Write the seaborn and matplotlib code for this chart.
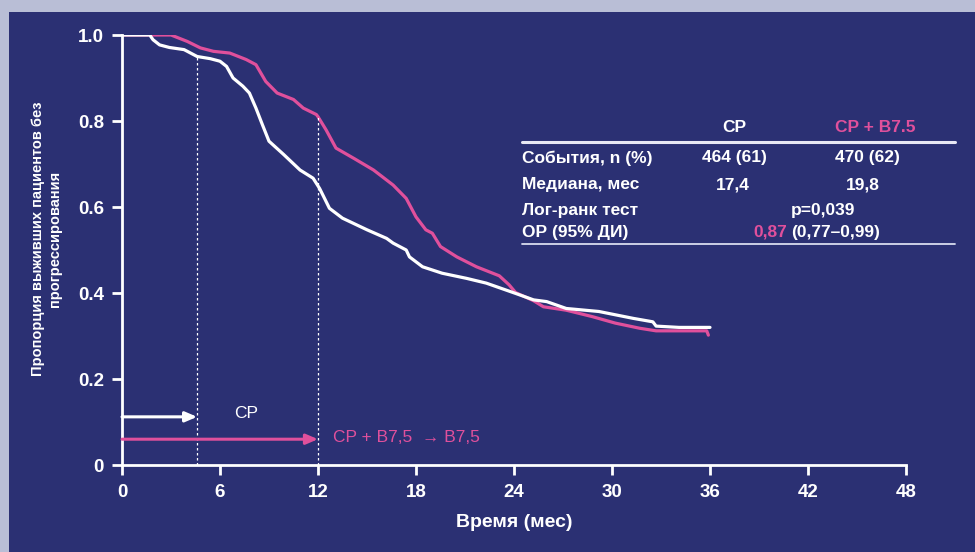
import numpy as np
import pandas as pd
import matplotlib
matplotlib.use("Agg")
import matplotlib.pyplot as plt
from matplotlib.patches import Rectangle
from matplotlib.lines import Line2D
import seaborn as sns

# ---------------- data ----------------
cp_time = [0, 1.7, 1.9, 2.3, 2.9, 3.8, 4.2, 4.6, 5.4, 6.0, 6.4, 6.8, 7.4, 7.8, 8.2, 8.6,
           9.0, 9.9, 10.9, 11.7, 12.1, 12.7, 13.5, 15.0, 16.2, 16.6, 17.4, 17.6,
           18.4, 19.6, 21.1, 22.3, 23.5, 24.1, 25.2, 26.0, 27.2, 29.2, 31.3, 32.5,
           32.7, 34.1, 36.0]
cp_surv = [1.0, 1.0, 0.989, 0.977, 0.971, 0.966, 0.958, 0.950, 0.945, 0.939, 0.927, 0.900,
           0.881, 0.865, 0.830, 0.791, 0.753, 0.722, 0.686, 0.667, 0.643, 0.597, 0.574,
           0.547, 0.527, 0.516, 0.500, 0.484, 0.461, 0.446, 0.434, 0.423, 0.407, 0.399,
           0.384, 0.380, 0.364, 0.357, 0.341, 0.333, 0.323, 0.320, 0.320]

cpb_time = [0, 3.0, 3.2, 4.0, 4.8, 5.6, 6.6, 7.6, 8.2, 8.8, 9.5, 10.5, 11.1, 11.9, 12.0,
            12.5, 13.1, 14.2, 15.4, 16.6, 17.4, 18.0, 18.6, 19.0, 19.5, 20.5, 21.7,
            23.1, 23.7, 24.1, 25.2, 25.8, 27.2, 28.8, 30.2, 31.7, 32.7, 35.8, 35.9]
cpb_surv = [1.0, 1.0, 0.997, 0.985, 0.970, 0.962, 0.958, 0.943, 0.931, 0.892, 0.865, 0.850,
            0.830, 0.815, 0.810, 0.779, 0.737, 0.713, 0.686, 0.651, 0.620, 0.577, 0.547,
            0.539, 0.508, 0.484, 0.461, 0.440, 0.419, 0.401, 0.382, 0.368, 0.360, 0.345,
            0.330, 0.318, 0.312, 0.312, 0.302]

x_ticks = [0, 6, 12, 18, 24, 30, 36, 42, 48]
y_ticks = [0, 0.2, 0.4, 0.6, 0.8, 1.0]
y_ticklabels = ["0", "0.2", "0.4", "0.6", "0.8", "1.0"]

series_names = ["CP", "CP + B7.5"]
table_rows = ["События, n (%)", "Медиана, мес", "Лог-ранк тест", "ОР (95% ДИ)"]
events = ["464 (61)", "470 (62)"]
medians = ["17,4", "19,8"]
logrank = "p=0,039"
hr_value = "0,87"
hr_ci = "(0,77–0,99)"

cp_switch = 4.6      # end of CP phase
cpb_switch = 12.0    # end of CP + B7.5 phase
cp_switch_s = 0.952
cpb_switch_s = 0.810

# ---------------- style ----------------
NAVY = "#2b3073"
LAV = "#b9bed6"
MAG = "#e0509c"
WHITE = "#ffffff"

sns.set_style("ticks")
plt.rcParams["font.family"] = ["Liberation Sans", "DejaVu Sans"]
plt.rcParams["font.weight"] = "bold"

W, H = 975, 552
fig = plt.figure(figsize=(W / 100, H / 100), dpi=100, facecolor=LAV)
fig.patches.append(Rectangle((9 / W, 0), 1 - 9 / W, 1 - 12 / H,
                             transform=fig.transFigure, facecolor=NAVY,
                             edgecolor="none", zorder=-10))

def fx(px):
    return px / W

def fy(py):
    return 1 - py / H

ax = fig.add_axes([fx(122), fy(465), fx(906) - fx(122), fy(35) - fy(465)])
ax.set_facecolor("none")

df = pd.concat([
    pd.DataFrame({"t": cp_time, "s": cp_surv, "arm": series_names[0]}),
    pd.DataFrame({"t": cpb_time, "s": cpb_surv, "arm": series_names[1]}),
])

sns.lineplot(data=df, x="t", y="s", hue="arm", palette={series_names[0]: WHITE, series_names[1]: MAG},
             hue_order=[series_names[1], series_names[0]],
             linewidth=2.3, legend=False, ax=ax, estimator=None, sort=True)

ax.set_xlim(0, 48)
ax.set_ylim(0, 1.0)
ax.set_xticks(x_ticks)
ax.set_xticklabels([str(v) for v in x_ticks])
ax.set_yticks(y_ticks)
ax.set_yticklabels(y_ticklabels)
for sp in ["top", "right"]:
    ax.spines[sp].set_visible(False)
for sp in ["left", "bottom"]:
    ax.spines[sp].set_color(WHITE)
    ax.spines[sp].set_linewidth(2.0)
ax.tick_params(axis="both", colors=WHITE, width=2.0, length=7, labelsize=13.5,
               direction="out")
ax.tick_params(axis="x", pad=7)
ax.tick_params(axis="y", pad=6)
for lab in ax.get_xticklabels() + ax.get_yticklabels():
    lab.set_fontweight("bold")

ax.set_xlabel("Время (мес)", color=WHITE, fontsize=14, fontweight="bold", labelpad=9)
ax.set_ylabel("Пропорция выживших пациентов без\nпрогрессирования", color=WHITE,
              fontsize=10.5, fontweight="bold", linespacing=1.3)
ax.yaxis.set_label_coords(-0.076, 0.526)

# dotted switch lines
ax.vlines([cp_switch], 0, cp_switch_s, colors=WHITE, linestyles=(0, (2, 2)), linewidth=0.9)
ax.vlines([cpb_switch], 0, cpb_switch_s, colors=WHITE, linestyles=(0, (2, 2)), linewidth=0.9)

# arrows
ax.annotate("", xy=(cp_switch, 0.112), xytext=(0, 0.112),
            arrowprops=dict(arrowstyle="-|>,head_length=0.7,head_width=0.3",
                            color=WHITE, lw=2.2, shrinkA=0, shrinkB=0))
ax.annotate("", xy=(cpb_switch, 0.06), xytext=(0, 0.06),
            arrowprops=dict(arrowstyle="-|>,head_length=0.7,head_width=0.3",
                            color=MAG, lw=2.2, shrinkA=0, shrinkB=0))
ax.text(7.6, 0.12, "CP", color=WHITE, fontsize=12.5, fontweight="normal",
        ha="center", va="center")
ax.text(12.9, 0.064, "CP + B7,5  → B7,5", color=MAG, fontsize=12.5, fontweight="normal",
        ha="left", va="center")

# ---------------- table ----------------
tk = dict(transform=fig.transFigure, fontsize=12.5, fontweight="bold", va="center")
fig.text(fx(734), fy(127), series_names[0], color=WHITE, ha="center", **tk)
fig.text(fx(875), fy(127), series_names[1], color=MAG, ha="center", **tk)
fig.add_artist(Line2D([fx(522), fx(955)], [fy(142), fy(142)], color="#e8e8f4", lw=2.2,
                      transform=fig.transFigure))
fig.add_artist(Line2D([fx(522), fx(955)], [fy(244), fy(244)], color="#d8dcee", lw=1.3,
                      transform=fig.transFigure))
row_y = [158, 185, 210, 232]
for r, yy in zip(table_rows, row_y):
    fig.text(fx(522), fy(yy), r, color=WHITE, ha="left", **tk)
fig.text(fx(734), fy(158), events[0], color=WHITE, ha="center", **tk)
fig.text(fx(867), fy(158), events[1], color=WHITE, ha="center", **tk)
fig.text(fx(733), fy(185), medians[0], color=WHITE, ha="center", **tk)
fig.text(fx(863), fy(185), medians[1], color=WHITE, ha="center", **tk)
fig.text(fx(823), fy(210), logrank, color=WHITE, ha="center", **tk)
fig.text(fx(787), fy(232), hr_value, color=MAG, ha="right", **tk)
fig.text(fx(791), fy(232), hr_ci, color=WHITE, ha="left", **tk)

fig.savefig("out.png", dpi=100, facecolor=LAV)
